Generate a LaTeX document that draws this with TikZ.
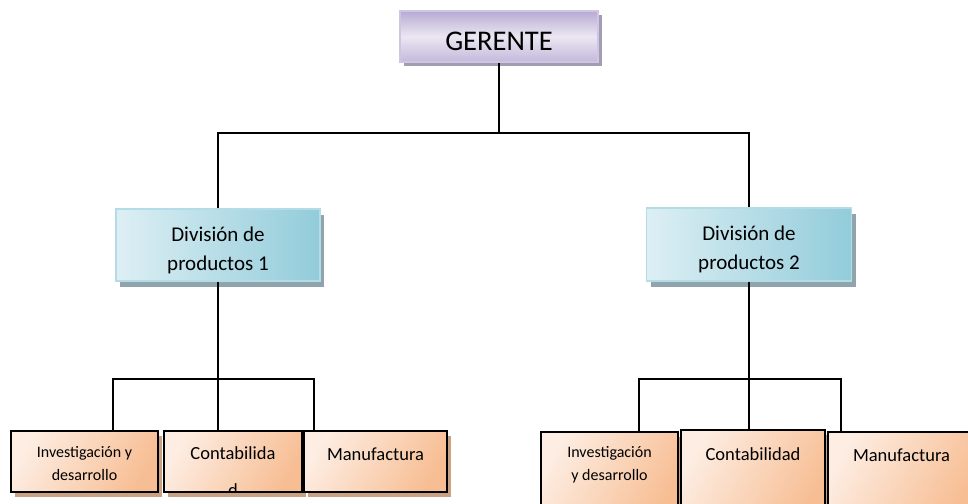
\documentclass[tikz,border=0pt]{standalone}
\usepackage{fontspec}
\setmainfont{Carlito}
\usetikzlibrary{shadows}
\definecolor{lilaTop}{HTML}{B8AAD3}
\definecolor{lilaMid}{HTML}{EBE7F2}
\definecolor{lilaBot}{HTML}{C4B8DB}
\definecolor{lilaBorde}{HTML}{CFC6E3}
\definecolor{lilaSombra}{HTML}{A39CB2}
\definecolor{celesteL}{HTML}{DDEFF4}
\definecolor{celesteR}{HTML}{92CCDA}
\definecolor{celesteBorde}{HTML}{B4DCE7}
\definecolor{celesteSombra}{HTML}{8FA4AC}
\definecolor{durazL}{HTML}{FDEDE2}
\definecolor{durazR}{HTML}{F7BE94}
\definecolor{durazSombra}{HTML}{C9A283}
\begin{document}
\begin{tikzpicture}[x=1pt,y=-1pt,
	conn/.style={line width=1.4pt, black},
	gerbox/.style={draw=lilaBorde, line width=1.2pt, top color=lilaTop, bottom color=lilaBot, middle color=lilaMid,
		minimum width=198pt, minimum height=51pt, inner sep=0pt, text height=28pt,
		drop shadow={shadow xshift=4pt, shadow yshift=-4pt, fill=lilaSombra, opacity=1},
		font=\fontsize{28.5}{32}\selectfont},
	divbox/.style={draw=celesteBorde, line width=1.2pt, left color=celesteL, right color=celesteR,
		minimum width=204pt, minimum height=72pt, inner sep=0pt, align=center,
		drop shadow={shadow xshift=4pt, shadow yshift=-6pt, fill=celesteSombra, opacity=1},
		font=\fontsize{21}{29}\selectfont},
	deptbox/.style={draw=black, line width=2.6pt, left color=durazL, right color=durazR, shading angle=60,
		minimum height=61pt, inner sep=0pt,
		drop shadow={shadow xshift=4pt, shadow yshift=-5pt, fill=durazSombra, opacity=1}},
	chico/.style={font=\fontsize{16}{23}\selectfont, align=center, inner sep=0pt},
	medio/.style={font=\fontsize{18.5}{22}\selectfont, align=center, inner sep=0pt}]
	\useasboundingbox (0,0) rectangle (968,503);
	% cajas
	\node[gerbox] (ger) at (499,36.5) {GERENTE};
	\node[divbox] (d1) at (218,245) {\\[-4pt]División de\\productos 1};
	\node[divbox, minimum width=205pt, minimum height=73pt] (d2) at (749,244.5) {\\[-4pt]División de\\productos 2};
	\node[deptbox, minimum width=147pt] (ia) at (84.5,461.5) {};
	\node[deptbox, minimum width=138pt, path picture={
		\node[medio] at ([yshift=2pt]path picture bounding box.south) {d};}] (ca) at (233,461.5) {};
	\node[deptbox, minimum width=143pt] (ma) at (375.5,461.5) {};
	\node[deptbox, minimum width=137pt, minimum height=88pt] (ib) at (609.5,476) {};
	\node[deptbox, minimum width=144pt, minimum height=90pt] (cb) at (753,475) {};
	\node[deptbox, minimum width=147pt, minimum height=88pt] (mb) at (901.5,476) {};
	% textos
	\node[chico] (iat) at ([yshift=-33.5pt]ia.north) {Investigación y\\desarrollo};
	\node[medio] (cat) at ([yshift=-23.5pt]ca.north) {Contabilida};
	\node[medio] (mat) at ([yshift=-25pt]ma.north) {Manufactura};
	\node[chico] (ibt) at ([yshift=-34.5pt]ib.north) {Investigación\\y desarrollo};
	\node[medio] (cbt) at ([yshift=-25pt]cb.north) {Contabilidad};
	\node[medio] (mbt) at ([yshift=-25pt]mb.north) {Manufactura};
	% lineas
	\coordinate (bus0) at (499,133);
	\coordinate (la) at (113,379);
	\coordinate (lc) at (314,379);
	\coordinate (ra) at (639,379);
	\coordinate (rc) at (841,379);
	\draw[conn] (ger.south) -- (bus0);
	\draw[conn] (d1.north) |- (bus0) -| (d2.north);
	\draw[conn] (d1.south) -- (d1.south |- ca.north);
	\draw[conn] (la |- ia.north) -- (la) -- (lc) -- (lc |- ma.north);
	\draw[conn] (d2.south) -- (d2.south |- cb.north);
	\draw[conn] (ra |- ib.north) -- (ra) -- (rc) -- (rc |- mb.north);
\end{tikzpicture}
\end{document}
